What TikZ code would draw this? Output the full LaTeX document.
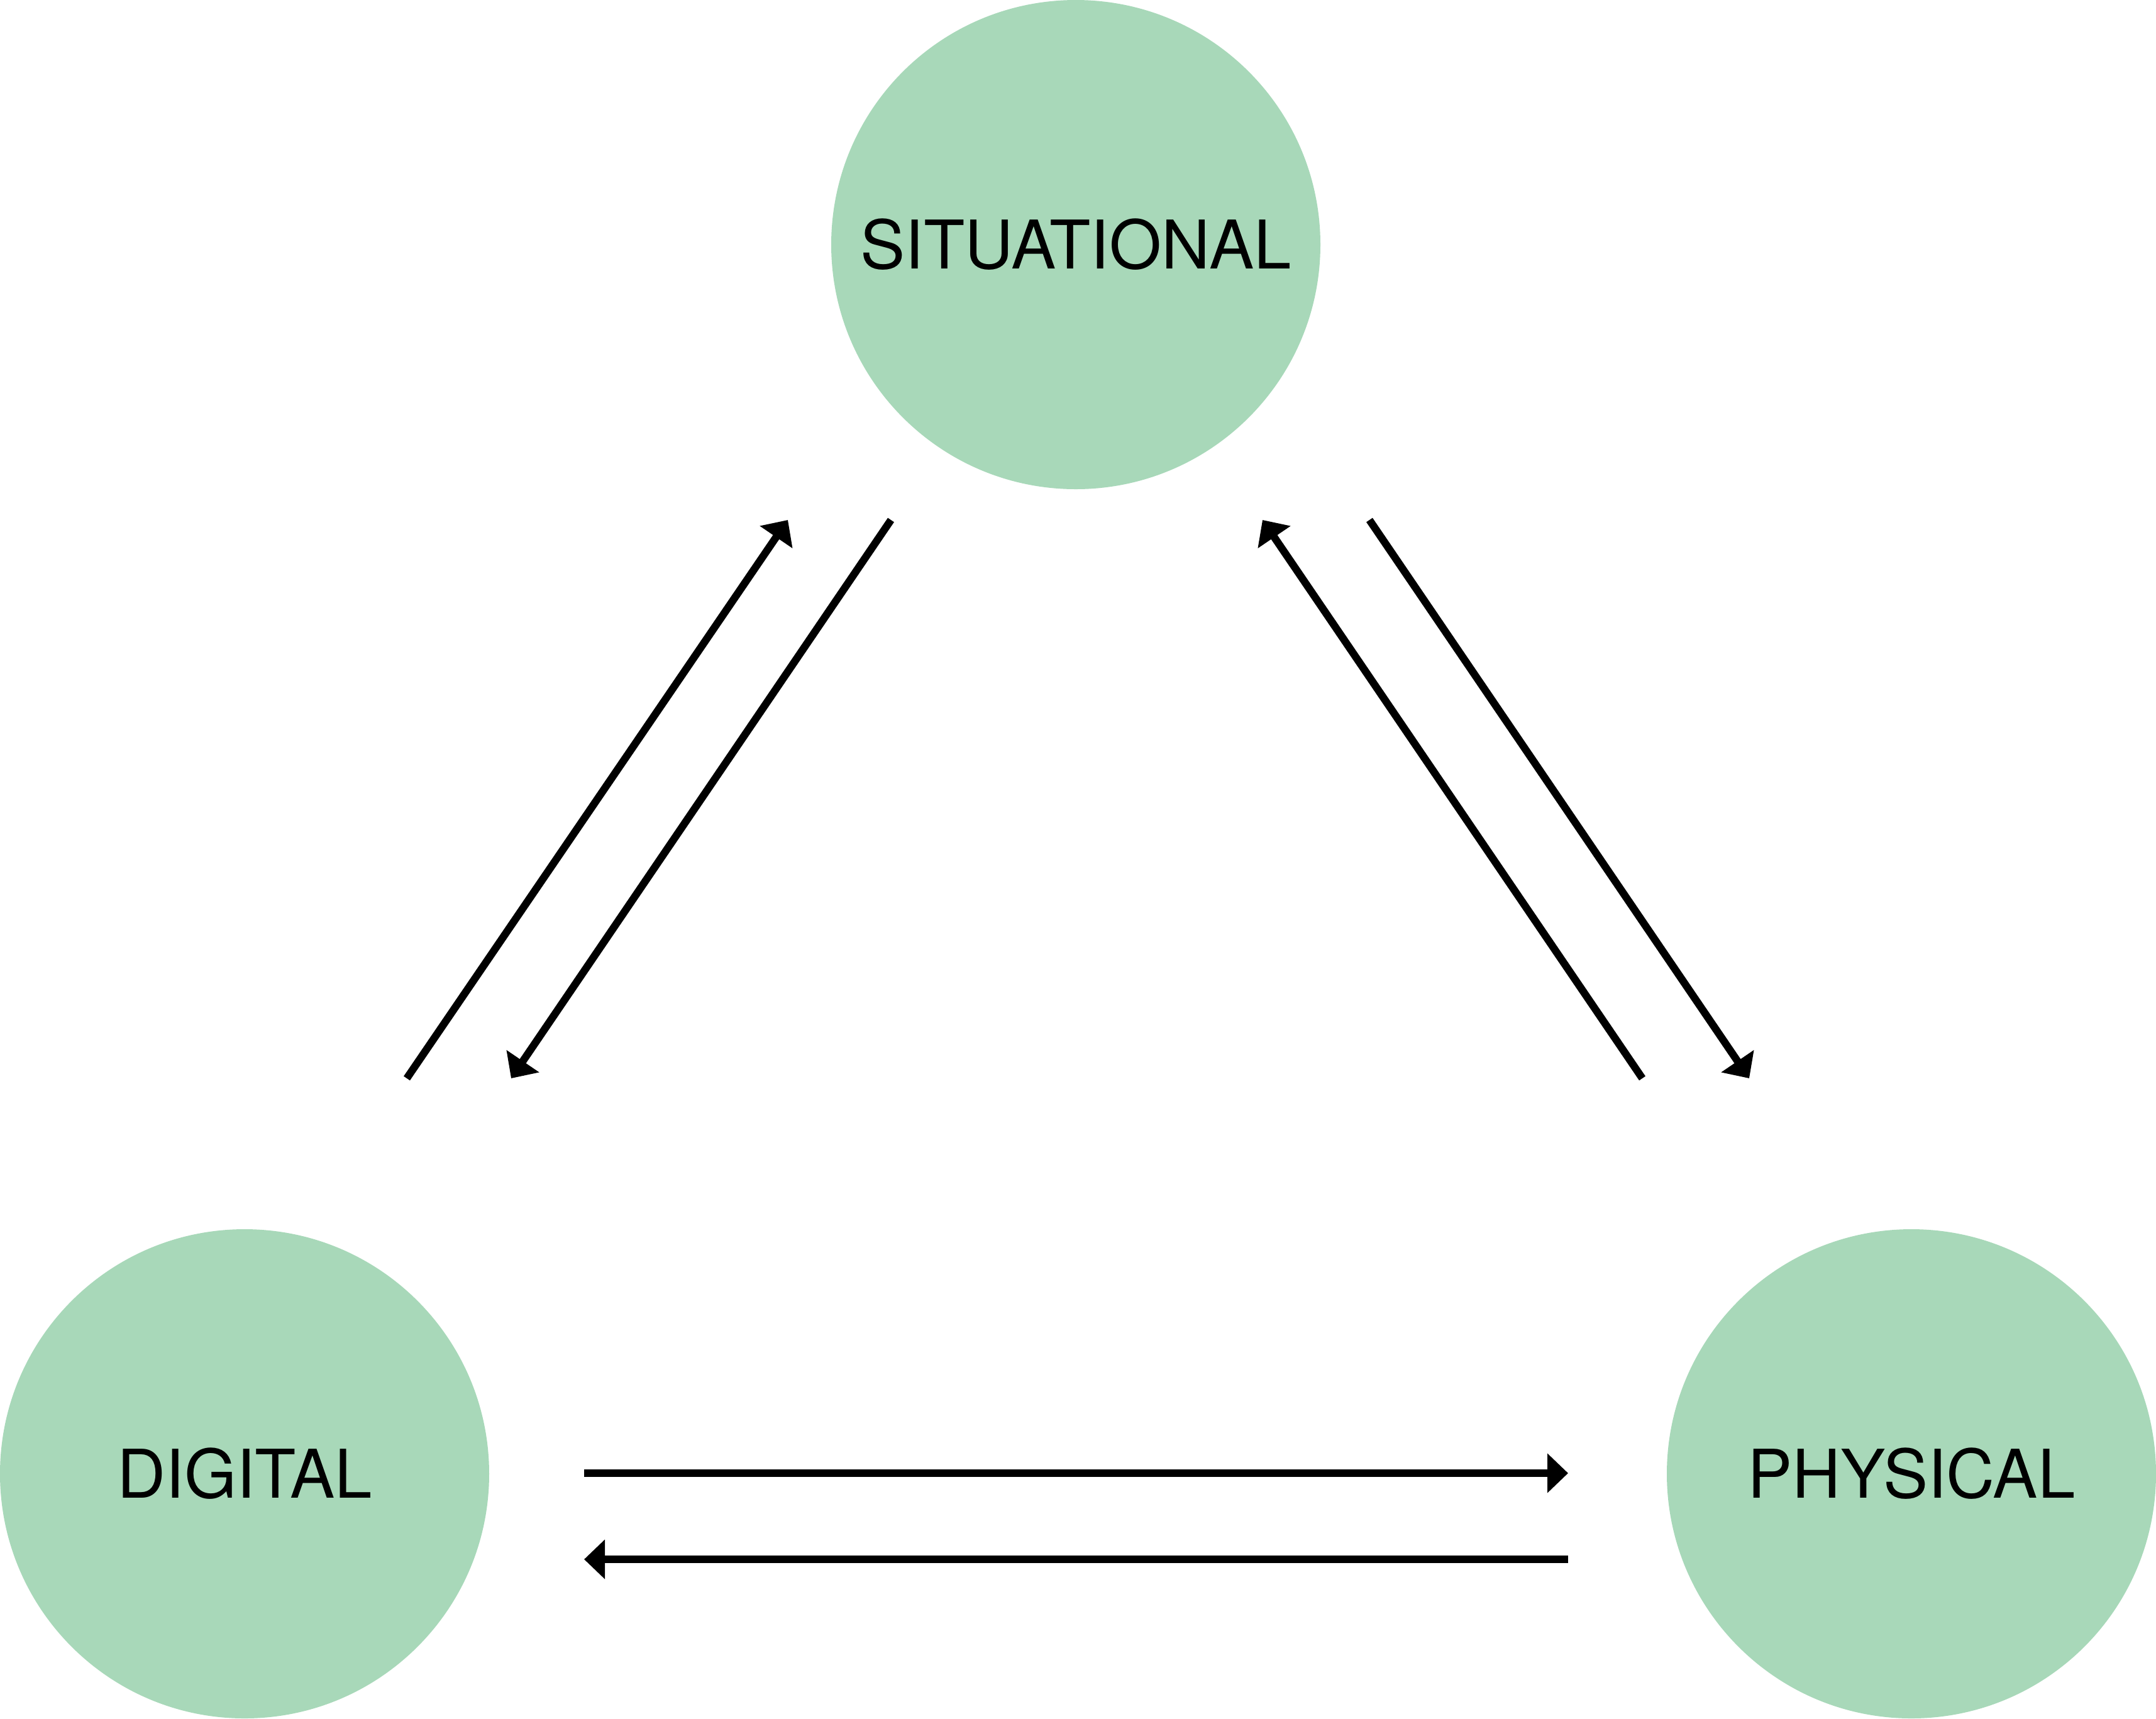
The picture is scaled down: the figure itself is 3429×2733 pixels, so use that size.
\documentclass[tikz,border=0pt]{standalone}
\usepackage{fontspec}
\setmainfont{TeX Gyre Heros}
\usepackage{tikz}
\usetikzlibrary{
  arrows.meta,
  positioning
}
\definecolor{ctxgreen}{RGB}{168,216,185}

\begin{document}
\begin{tikzpicture}[
  x=0.25pt, y=-0.25pt,
  ctx/.style={
    circle, fill=ctxgreen, minimum size=194.5pt, inner sep=0pt,
    font=\fontsize{26.7}{31}\selectfont
  },
  ptr/.style={-{Triangle[length=8.25pt,width=15.25pt]}, line width=3pt, black}
]
  \useasboundingbox (0,0) rectangle (3429,2733);

  % contexts
  \node[ctx] (sit) at (1711,389) {SITUATIONAL};
  \node[ctx] (dig) at (389,2344) {DIGITAL};
  \node[ctx] (phy) at (3040,2344) {PHYSICAL};

  % arrow ends
  \coordinate (dig-sit-a) at (647,1715);
  \coordinate (dig-sit-b) at (1253,827);
  \coordinate (sit-dig-a) at (1417,827);
  \coordinate (sit-dig-b) at (813,1715);
  \coordinate (phy-sit-a) at (2612,1715);
  \coordinate (phy-sit-b) at (2008,827);
  \coordinate (sit-phy-a) at (2178,827);
  \coordinate (sit-phy-b) at (2782,1715);
  \coordinate (dig-phy-a) at (929,2343);
  \coordinate (dig-phy-b) at (2494,2343);
  \coordinate (phy-dig-a) at (2494,2480);
  \coordinate (phy-dig-b) at (929,2480);

  \draw[ptr] (dig-sit-a) -- (dig-sit-b);
  \draw[ptr] (sit-dig-a) -- (sit-dig-b);
  \draw[ptr] (phy-sit-a) -- (phy-sit-b);
  \draw[ptr] (sit-phy-a) -- (sit-phy-b);
  \draw[ptr] (dig-phy-a) -- (dig-phy-b);
  \draw[ptr] (phy-dig-a) -- (phy-dig-b);
\end{tikzpicture}
\end{document}
